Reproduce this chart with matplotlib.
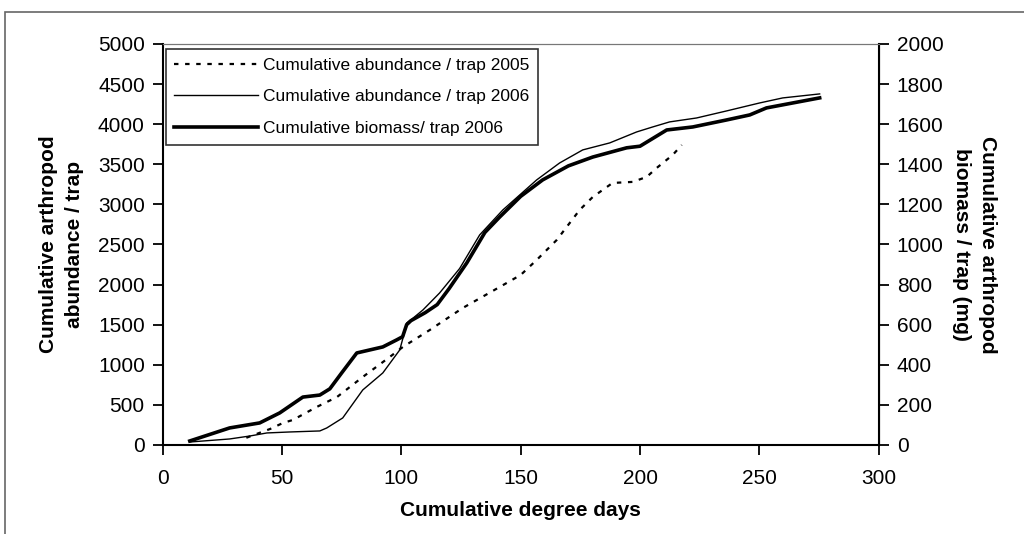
import matplotlib.pyplot as plt
from matplotlib.patches import Rectangle

plt.rcParams["font.family"] = ["Liberation Sans", "DejaVu Sans"]

# Cumulative abundance per trap, 2005 season
dd_2005 = [35, 45, 50.3, 54.5, 64.5, 73, 83.8, 95.1, 100.6, 111.9, 125.7,
           141.2, 150, 156.7, 165.1, 174.7, 180.2, 188.5, 196.9, 202.8,
           207, 213.7, 217.5]
abund_2005 = [90, 200, 274, 312, 474, 598, 848, 1097, 1222, 1434, 1708,
              1970, 2120, 2307, 2556, 2930, 3092, 3267, 3280, 3342,
              3454, 3616, 3740]

# Cumulative abundance per trap, 2006 season
dd_2006 = [11.3, 28, 36.5, 43.6, 53, 65.8, 68.7, 75.4, 83.8, 92.2, 99.3,
           101, 102.2, 104, 109, 116, 124.4, 132.8, 142.5, 156.7, 166.3,
           176, 187.3, 198.6, 205.3, 212.4, 223.7, 236.3, 250.1, 259.8,
           275.3]
abund_2006 = [37, 75, 112, 150, 162, 175, 212, 337, 686, 898, 1185,
              1372, 1521, 1560, 1683, 1895, 2200, 2619, 2930, 3305, 3516,
              3679, 3766, 3903, 3965, 4028, 4077, 4165, 4264, 4327,
              4377]

# Cumulative biomass per trap (mg), 2006 season
dd_bio = [11.3, 28, 40.6, 49, 58.7, 65.8, 70, 75, 81.3, 92.2, 98,
          100.5, 102.2, 104, 110, 115, 120, 127.4, 135, 141.2, 150,
          159.2, 170, 180.2, 194.4, 200, 211.2, 222.1, 236.3, 246, 253,
          275.3]
biomass = [20, 85, 110, 160, 239, 249, 280, 360, 459, 489, 524,
           540, 600, 620, 660, 700, 780, 908, 1060, 1137, 1240,
           1322, 1392, 1436, 1482, 1490, 1571, 1586, 1621, 1646, 1681,
           1731]

fig = plt.figure(figsize=(10.24, 5.34), dpi=100)
ax = fig.add_axes([0.159, 0.1667, 0.699, 0.751])
ax2 = ax.twinx()

# chart-area frame
fig.patches.append(Rectangle((5 / 1024, -0.1), 1.2, 1 - 12 / 534 + 0.1,
                             transform=fig.transFigure, fill=False,
                             edgecolor="#666666", linewidth=1.2))

l1, = ax.plot(dd_2005, abund_2005, color="black", linewidth=1.6,
              linestyle=(0, (2, 3)), label="Cumulative abundance / trap 2005")
l2, = ax.plot(dd_2006, abund_2006, color="black", linewidth=1.0,
              label="Cumulative abundance / trap 2006")
l3, = ax2.plot(dd_bio, biomass, color="black", linewidth=2.6,
               label="Cumulative biomass/ trap 2006")

ax.set_xlim(0, 300)
ax.set_ylim(0, 5000)
ax2.set_ylim(0, 2000)
ax.set_xticks(range(0, 301, 50))
ax.set_yticks(range(0, 5001, 500))
ax2.set_yticks(range(0, 2001, 200))

for a in (ax, ax2):
    a.tick_params(direction="out", length=7, width=1.3, labelsize=15,
                  colors="black", pad=6)
    a.spines["top"].set_color("#777777")
ax.tick_params(axis="x", pad=10)
ax.spines["left"].set_linewidth(1.5)
ax.spines["bottom"].set_linewidth(1.5)
ax2.spines["right"].set_linewidth(1.5)
ax2.spines["left"].set_visible(False)
ax2.spines["bottom"].set_visible(False)

ax.set_xlabel("Cumulative degree days", fontsize=15, fontweight="bold",
              labelpad=10)
ax.set_ylabel("Cumulative arthropod\nabundance / trap", fontsize=15,
              fontweight="bold", labelpad=10, linespacing=1.45)
ax2.set_ylabel("Cumulative arthropod\nbiomass / trap (mg)", fontsize=15,
               fontweight="bold", rotation=270, va="bottom", labelpad=6,
               linespacing=1.45)

leg = ax.legend(handles=[l1, l2, l3], loc="upper left", fontsize=12.5,
                frameon=True, fancybox=False, handlelength=4.8,
                handletextpad=0.3, borderpad=0.5, labelspacing=0.95,
                borderaxespad=0, bbox_to_anchor=(3 / 716, 1 - 5 / 401))
leg.get_frame().set_edgecolor("black")
leg.get_frame().set_linewidth(1.2)

fig.savefig("out.png", dpi=100)
